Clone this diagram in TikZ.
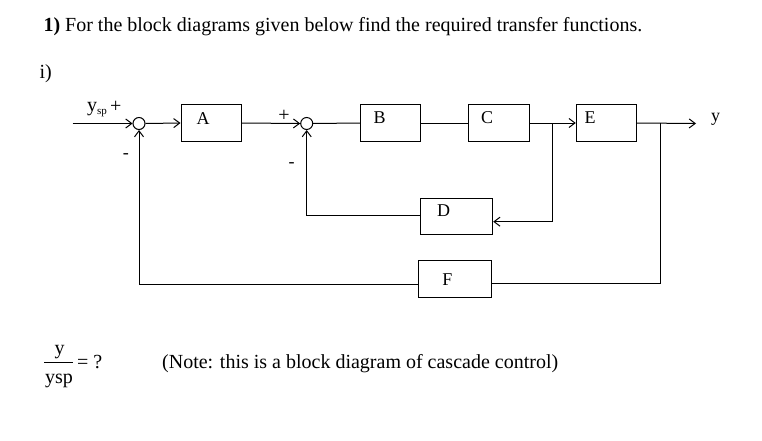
\documentclass[tikz,border=0pt]{standalone}
\usepackage{fontspec}
\setmainfont{Liberation Serif}
\usetikzlibrary{arrows.meta}
\begin{document}
\begin{tikzpicture}[x=1pt,y=-1pt,
  line width=1pt,
  arr/.style={-{Straight Barb[length=6pt,width=9pt,line width=1pt]}},
  blk/.style={draw,rectangle,inner sep=0pt,minimum height=36pt},
  sumj/.style={draw,circle,inner sep=0pt,minimum size=12pt},
  lbl/.style={inner sep=0pt,anchor=base,font=\fontsize{18}{20}\selectfont},
  txt/.style={inner sep=0pt,anchor=base west,font=\fontsize{20}{24}\selectfont},
  sgn/.style={inner sep=0pt,font=\fontsize{20}{24}\selectfont}]
\useasboundingbox (0,0) rectangle (762,441);
% texts
\node[txt] (title) at (43,31.7) {\textbf{1)} For the block diagrams given below find the required transfer functions.};
\node[txt] (part) at (39,79) {i)};
% blocks
\node[blk,minimum width=60pt] (A) at (211,123) {};
\node[blk,minimum width=60.4pt] (B) at (390.5,123) {};
\node[blk,minimum width=60.7pt] (C) at (498.7,123) {};
\node[blk,minimum width=60.4pt] (E) at (606.5,123) {};
\node[blk,minimum width=72.4pt,minimum height=35.7pt] (D) at (456.5,216.2) {};
\node[blk,minimum width=72.7pt,minimum height=36.6pt] (F) at (455.3,279) {};
\node[lbl] (Al) at (203,124.3) {A};
\node[lbl] (Bl) at (379.5,124) {B};
\node[lbl] (Cl) at (487,124) {C};
\node[lbl] (El) at (590,124) {E};
\node[lbl] (Dl) at (443.7,216) {D};
\node[lbl] (Fl) at (447.3,285) {F};
% summing junctions
\node[sumj] (s1) at (139,123.5) {};
\node[sumj] (s2) at (306.7,123.5) {};
% signs
\node[txt] (ysp) at (86.7,111.7) {y{\fontsize{11}{12}\selectfont\raisebox{-2.5pt}{sp}}};
\node[sgn] (p1) at (115.8,106.7) {+};
\node[sgn] (p2) at (284,116) {+};
\node[sgn,font=\fontsize{18}{20}\selectfont] (m1) at (125.8,156) {-};
\node[sgn,font=\fontsize{18}{20}\selectfont] (m2) at (291.5,165) {-};
\node[lbl,anchor=base west] (yout) at (710.7,121.5) {y};
% coordinates
\coordinate (in) at (72.7,123.5);
\coordinate (out) at (696,123.5);
\coordinate (b1) at (552.3,123);
\coordinate (b2) at (660,123);
% connectors
\draw[arr] (in) -- (s1.west);
\draw[arr] (s1.east) -- (A.west);
\draw[arr] (A.east) -- (s2.west);
\draw (s2.east) -- (B.west);
\draw (B.east) -- (C.west);
\draw[arr] (C.east) -- (E.west);
\draw[arr] (E.east) -- (out);
\draw[arr] (b1) |- ([yshift=-5.5pt]D.east);
\draw[arr] ([yshift=0.5pt]D.west) -| (s2.south);
\draw (b2) |- ([yshift=-4pt]F.east);
\draw[arr] ([yshift=-5pt]F.west) -| (s1.south);
% bottom
\node[txt,anchor=base] (num) at (59.5,354) {y};
\node[txt,anchor=base] (den) at (59,383) {ysp};
\draw (44,362.3) -- (73.3,362.3);
\node[txt] (eq) at (76.7,368) {= ?};
\node[txt] (note) at (161.7,368.3) {(Note: this is a block diagram of cascade control)};
\end{tikzpicture}
\end{document}
